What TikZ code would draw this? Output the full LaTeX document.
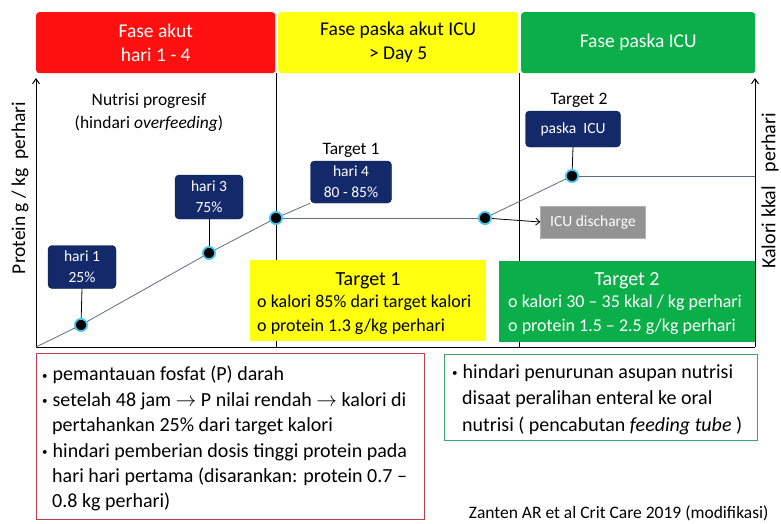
\documentclass[tikz,border=0pt]{standalone}
\usepackage{fontspec}
\setmainfont{Carlito}
\usetikzlibrary{arrows.meta}
\definecolor{navybox}{HTML}{13296A}
\definecolor{hred}{HTML}{FF1010}
\definecolor{hyellow}{HTML}{FFFF10}
\definecolor{hgreen}{HTML}{0BAF4A}
\definecolor{chartln}{HTML}{5E6E80}
\definecolor{redborder}{HTML}{C0404A}
\definecolor{greenborder}{HTML}{3FA66A}
\definecolor{glow}{HTML}{3FC8F0}
\newcommand{\smbul}{\raisebox{1.5pt}{\fontsize{11}{11}\selectfont •}\hspace{5pt}}
\tikzset{
  header/.style={anchor=north west, rounded corners=3pt, inner sep=0pt, align=center, font=\fontsize{19.5}{24}\selectfont},
  navy/.style={fill=navybox, draw=navybox!70!black, rounded corners=4pt, text=white, align=center, inner sep=0pt, font=\fontsize{15.5}{21}\selectfont},
  dot/.style={circle, fill=black, draw=glow, line width=1.6pt, inner sep=0pt, minimum size=12pt},
  chart/.style={draw=chartln, line width=0.8pt},
  axis/.style={draw=black, line width=1pt},
  lbl/.style={font=\fontsize{17.5}{23}\selectfont, align=center},
  tbox/.style={anchor=north west, inner sep=0pt},
  bodytxt/.style={anchor=north west, align=left, inner sep=0pt},
}
\begin{document}
\begin{tikzpicture}[x=1pt,y=-1pt]
\useasboundingbox[fill=white] (0,0) rectangle (781,523);
% headers
\node[header, fill=hred, text=white, minimum width=239pt, minimum height=61pt] (h1) at (36,12) {Fase akut\\hari 1 - 4};
\node[header, fill=hyellow, text=black, minimum width=240pt, minimum height=61pt] (h2) at (278,12) {Fase paska akut ICU\\> Day 5};
\node[header, fill=hgreen, text=white, minimum width=234pt, minimum height=61pt] (h3) at (521,12) {Fase paska ICU};
% axes & frame
\coordinate (o) at (36,347);
\coordinate (ytop) at (36,78);
\coordinate (br) at (755,347);
\coordinate (rtop) at (755,78);
\coordinate (d1t) at (276,73);
\coordinate (d1b) at (276,347);
\coordinate (d2t) at (519,73);
\coordinate (d2b) at (519,347);
\draw[axis] (d1t) -- (d1b);
\draw[axis] (d2t) -- (d2b);
\draw[axis] (o) -- (br);
\draw[axis, -{Straight Barb[length=5pt,width=7pt]}] (o) -- (ytop);
\draw[axis, -{Straight Barb[length=5pt,width=7pt]}] (br) -- (rtop);
% axis labels
\node[rotate=90, font=\fontsize{19.5}{20}\selectfont] (yl) at (20,188) {Protein g / kg\ \ perhari};
\node[rotate=90, font=\fontsize{20}{20}\selectfont] (yr) at (770,191) {Kalori kkal\ \ \ perhari};
% target boxes (over dividers)
\node[tbox, fill=hyellow, minimum width=236pt, minimum height=81pt] (t1) at (250,260) {};
\node[font=\fontsize{20}{22}\selectfont] (t1h) at (368,281) {Target 1};
\node[bodytxt, font=\fontsize{18}{24}\selectfont] (t1t) at (257,295) {o kalori 85\% dari target kalori\\o protein 1.3 g/kg perhari};
\node[tbox, fill=hgreen, minimum width=256pt, minimum height=81pt] (t2) at (499,261) {};
\node[font=\fontsize{20}{22}\selectfont, text=white] (t2h) at (627,281) {Target 2};
\node[bodytxt, font=\fontsize{18}{24}\selectfont, text=white] (t2t) at (508,295) {o kalori 30 -- 35 kkal / kg perhari\\o protein 1.5 -- 2.5 g/kg perhari};
% labels
\node[lbl] (np) at (149,112) {Nutrisi progresif\\(hindari \textit{overfeeding})};
\node[lbl] (lt1) at (351,150) {Target 1};
\node[lbl] (lt2) at (579,100) {Target 2};
% navy boxes
\node[navy, minimum width=68pt, minimum height=43pt] (b1) at (82,267) {hari 1\\25\%};
\node[navy, minimum width=68pt, minimum height=44pt] (b3) at (209,197) {hari 3\\75\%};
\node[navy, minimum width=81pt, minimum height=42pt] (b4) at (351,182) {hari 4\\80 - 85\%};
\node[navy, minimum width=95pt, minimum height=36pt] (bp) at (573,129) {paska\ \ ICU};
\node[fill=gray!85, draw=gray!60, text=white, inner sep=0pt, minimum width=105pt, minimum height=32pt, font=\fontsize{15.5}{16}\selectfont] (icu) at (593,222) {ICU discharge};
% points
\coordinate (rr) at (755,176);
\node[dot] (p1) at (81,325) {};
\node[dot] (p3) at (209,253) {};
\node[dot] (p4) at (276,218) {};
\node[dot] (p5) at (485,218) {};
\node[dot] (p6) at (572,176) {};
\draw[chart] (o) -- (p1) -- (p3) -- (p4);
\draw[chart] (p4) -- (b4.south west);
\draw[chart] (p4) -- (p5);
\draw[chart] (p5) -- (p6);
\draw[chart] (p6) -- (rr);
\draw[black, line width=0.8pt] (b1.south) -- (p1);
\draw[black, line width=0.8pt] (b3.south) -- (p3);
\draw[black, line width=0.8pt] (bp.south) -- (p6);
\draw[black, line width=0.8pt, -{Straight Barb[length=4pt,width=7pt]}] (p5) -- (icu.west);
% redraw dots on top
\node[dot] at (p1) {};
\node[dot] at (p3) {};
\node[dot] at (p4) {};
\node[dot] at (p5) {};
\node[dot] at (p6) {};
% bottom boxes
\node[tbox, draw=redborder, line width=1.2pt, minimum width=388pt, minimum height=166pt] (rb) at (36,353) {};
\node[bodytxt, font=\fontsize{20}{25.4}\selectfont] (rbt) at (42,366) {%
\smbul pemantauan fosfat (P) darah\\
\smbul setelah 48 jam $\rightarrow$ P nilai rendah $\rightarrow$ kalori di\\
\hspace{10pt}pertahankan 25\% dari target kalori\\
\smbul hindari pemberian dosis tinggi protein pada\\
\hspace{10pt}hari hari pertama (disarankan: protein 0.7 --\\
\hspace{10pt}0.8 kg perhari)};
\node[tbox, draw=greenborder, line width=1.2pt, minimum width=313pt, minimum height=86pt] (gb) at (444,354) {};
\node[bodytxt, font=\fontsize{20}{26.5}\selectfont] (gbt) at (452,364) {%
\smbul hindari penurunan asupan nutrisi\\
\hspace{10pt}disaat peralihan enteral ke oral\\
\hspace{10pt}nutrisi ( pencabutan \textit{feeding tube} )};
\node[anchor=east, font=\fontsize{17.5}{18}\selectfont] (cite) at (772,513) {Zanten AR et al Crit Care 2019 (modifikasi)};
\end{tikzpicture}
\end{document}
